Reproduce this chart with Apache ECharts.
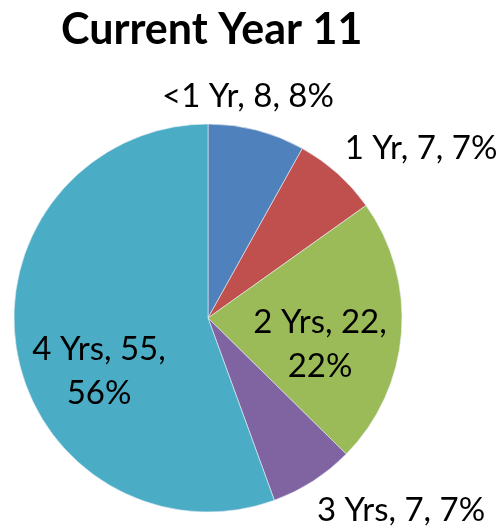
<!DOCTYPE html>
<html>
<head>
<meta charset="utf-8">
<script src="https://cdn.jsdelivr.net/npm/echarts@6/dist/echarts.min.js"></script>
<style>
  html, body { margin: 0; padding: 0; background: #fff; }
  #chart { width: 501px; height: 528px; }
</style>
</head>
<body>
<div id="chart"></div>
<script>
const categories = ["<1 Yr", "1 Yr", "2 Yrs", "3 Yrs", "4 Yrs"];
const values = [8, 7, 22, 7, 55];
const colors = ["#4F81BD", "#C0504D", "#9BBB59", "#8064A2", "#4BACC6"];
// which labels sit inside the slice, and wrap onto two lines
const insideLabel = [false, false, true, false, true];
// label centres in pixels (layout only, not data)
const labelCentres = [[248, 96], [421, 148], [320, 344], [401, 510], [99, 371]];

const chart = echarts.init(document.getElementById("chart"));

const pieData = categories.map((name, i) => ({
  name,
  value: values[i],
  itemStyle: { color: colors[i] },
  label: {
    position: insideLabel[i] ? "inside" : "outside",
    formatter: insideLabel[i] ? "{b}, {c},\n{d}%" : "{b}, {c}, {d}%",
  },
}));

chart.setOption({
  animation: false,
  title: {
    text: "Current Year 11",
    left: 56,
    top: 4,
    textStyle: {
      fontFamily: "Lato",
      fontWeight: "bold",
      fontSize: 43,
      color: "#000",
    },
  },
  series: [
    {
      type: "pie",
      center: [208, 318],
      radius: 194,
      startAngle: 90,
      clockwise: true,
      percentPrecision: 0,
      itemStyle: { borderColor: "#e8eef5", borderWidth: 0.6 },
      label: {
        fontFamily: "Lato",
        fontSize: 33,
        lineHeight: 44,
        color: "#000",
        align: "center",
        overflow: "none",
      },
      labelLine: { show: false, length: 6, length2: 0 },
      labelLayout: (params) => ({
        x: labelCentres[params.dataIndex][0],
        y: labelCentres[params.dataIndex][1],
        align: "center",
        verticalAlign: "middle",
      }),
      emphasis: { disabled: true },
      data: pieData,
    },
  ],
});
</script>
</body>
</html>
